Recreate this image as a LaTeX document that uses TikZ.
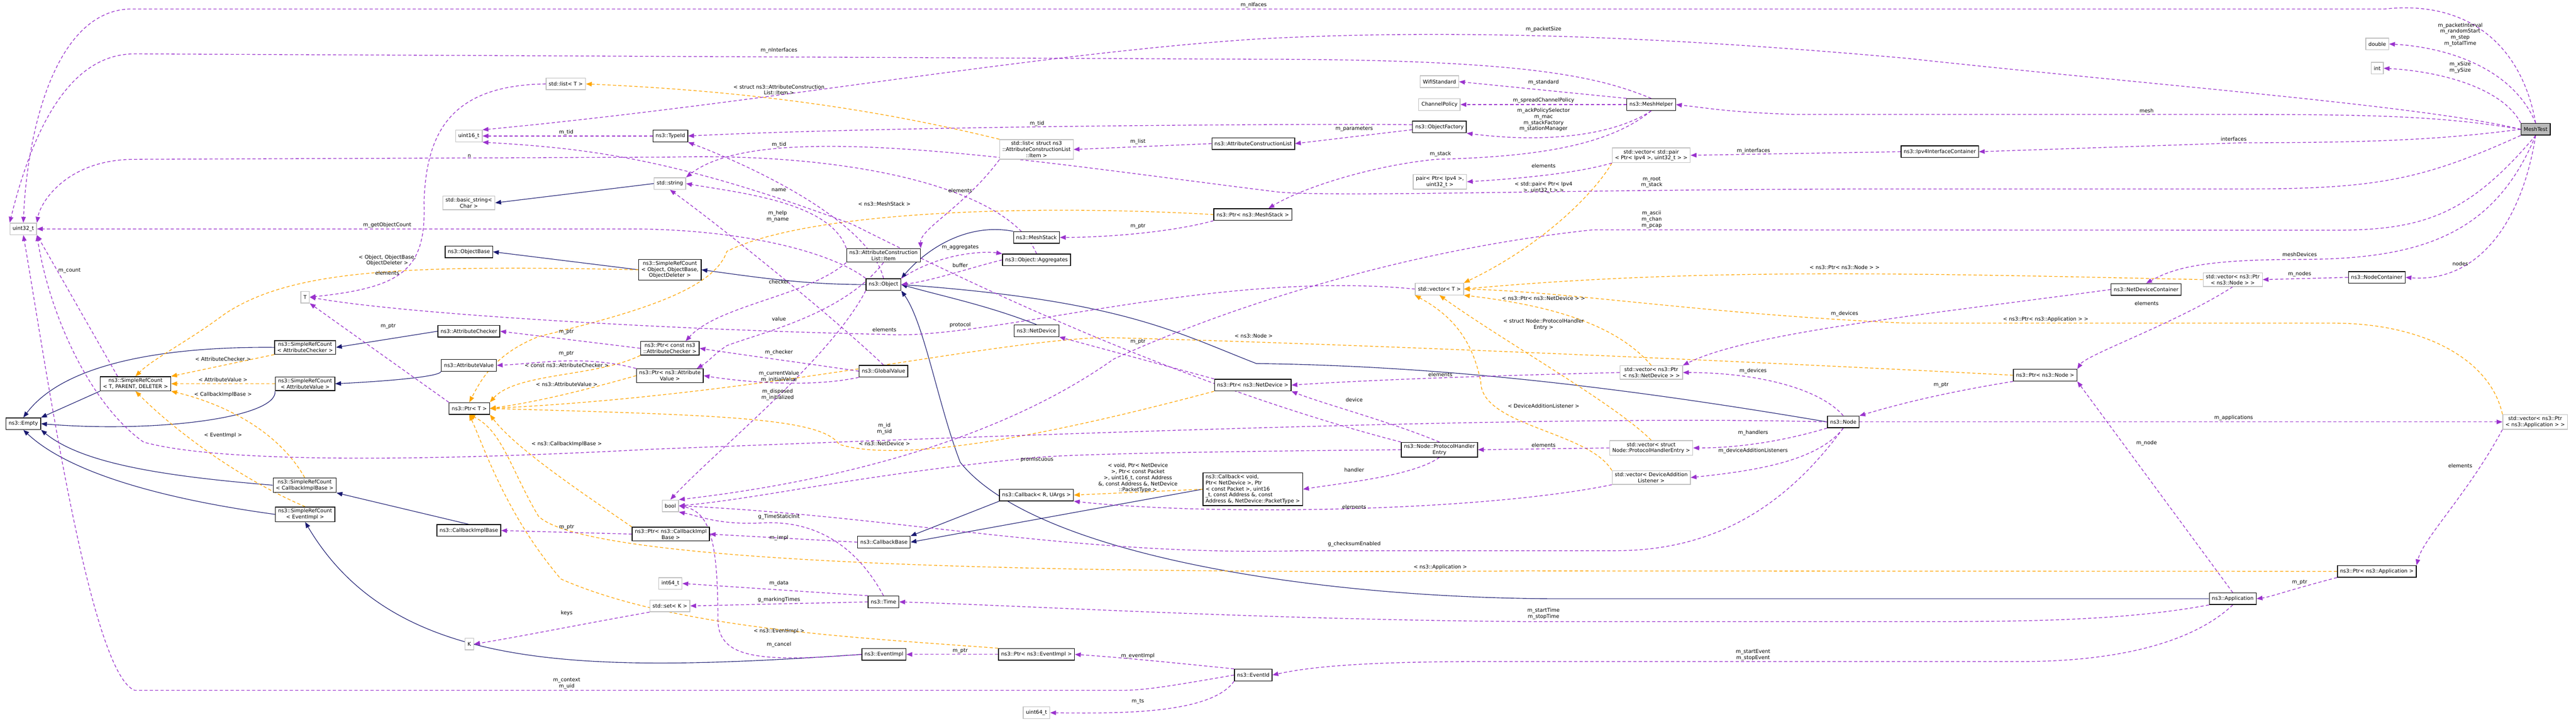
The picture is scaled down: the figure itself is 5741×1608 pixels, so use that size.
\documentclass[tikz,border=0pt]{standalone}
\usepackage{fontspec}
\setmainfont{DejaVu Sans}
\usetikzlibrary{arrows.meta}
\pgfdeclarelayer{edges}
\pgfsetlayers{edges,main}
\definecolor{mpurple}{HTML}{9A32CD}
\definecolor{morange}{HTML}{FFA500}
\definecolor{mnavy}{HTML}{191970}
\definecolor{mgray}{HTML}{BFBFBF}
\begin{document}
\begin{tikzpicture}[x=1pt,y=-1pt,
  box/.style={draw=black,line width=1.6pt,fill=white,inner xsep=6pt,inner ysep=4pt,minimum height=26pt,align=center,font=\fontsize{11.5}{13.5}\selectfont},
  ext/.style={box,draw=mgray},
  mem/.style={draw=mpurple,line width=1.5pt,dash pattern=on 7pt off 5pt,-{Triangle[length=13pt,width=10pt]}},
  tpl/.style={draw=morange,line width=1.5pt,dash pattern=on 7pt off 5pt,-{Triangle[length=13pt,width=10pt]}},
  inh/.style={draw=mnavy,line width=1.3pt,-{Triangle[length=13pt,width=10pt]}},
  lbl/.style={font=\fontsize{11.5}{13.5}\selectfont,align=center,inner sep=1pt}]
\begin{pgfonlayer}{edges}
\fill[white] (0,0) rectangle (5741,1608);
\end{pgfonlayer}
\useasboundingbox (0,0) rectangle (5741,1608);
% ---------- nodes ----------
\node[box,fill=gray!55] (MeshTest) at (5651,288) {MeshTest};
\node[ext] (dbl) at (5298,98) {double};
\node[ext] (int) at (5298,152) {int};
\node[ext] (u32) at (52,510) {uint32\_t};
\node[ext] (u16) at (1045,303) {uint16\_t};
\node[ext] (lstT) at (1261,187) {std::list< T >};
\node[ext] (bstr) at (1045,452) {std::basic\_string<\\ Char >};
\node[box] (objbase) at (1045,561) {ns3::ObjectBase};
\node[ext] (Tt) at (680,662) {T};
\node[box] (achk) at (1045,738) {ns3::AttributeChecker};
\node[box] (srcAC) at (680,774) {ns3::SimpleRefCount\\< AttributeChecker >};
\node[box] (empty) at (52,944) {ns3::Empty};
\node[box] (srcT) at (302,855) {ns3::SimpleRefCount\\< T, PARENT, DELETER >};
\node[box] (srcAV) at (680,855) {ns3::SimpleRefCount\\< AttributeValue >};
\node[box] (aval) at (1045,814) {ns3::AttributeValue};
\node[box] (ptrT) at (1046,910) {ns3::Ptr< T >};
\node[box] (srcCB) at (679,1081) {ns3::SimpleRefCount\\< CallbackImplBase >};
\node[box] (srcEI) at (680,1146) {ns3::SimpleRefCount\\< EventImpl >};
\node[box] (cbimpl) at (1045,1182) {ns3::CallbackImplBase};
\node[ext] (K) at (1046,1435) {K};
\node[box] (typeid) at (1494,303) {ns3::TypeId};
\node[ext] (str) at (1493,409) {std::string};
\node[ext] (lstItem) at (2310,333) {std::list< struct ns3\\::AttributeConstructionList\\::Item >};
\node[box] (acl) at (2793,320) {ns3::AttributeConstructionList};
\node[box] (ptrMS) at (2792,478) {ns3::Ptr< ns3::MeshStack >};
\node[box] (meshstack) at (2310,529) {ns3::MeshStack};
\node[box] (item) at (1969,569) {ns3::AttributeConstruction\\List::Item};
\node[box] (aggr) at (2310,579) {ns3::Object::Aggregates};
\node[box] (srcObj) at (1493,601) {ns3::SimpleRefCount\\< Object, ObjectBase,\\ ObjectDeleter >};
\node[box] (obj) at (1969,634) {ns3::Object};
\node[box] (netdev) at (2310,737) {ns3::NetDevice};
\node[box] (ptrCAC) at (1493,776) {ns3::Ptr< const ns3\\::AttributeChecker >};
\node[box] (ptrAV) at (1493,837) {ns3::Ptr< ns3::Attribute\\Value >};
\node[box] (gval) at (1969,827) {ns3::GlobalValue};
\node[box,align=left] (cbvoid) at (2792,1090) {ns3::Callback< void,\\ Ptr< NetDevice >, Ptr\\< const Packet >, uint16\\\_t, const Address \&, const\\ Address \&, NetDevice::PacketType >};
\node[box] (cbR) at (2310,1103) {ns3::Callback< R, UArgs >};
\node[ext] (bool) at (1494,1127) {bool};
\node[box] (ptrCB) at (1495,1190) {ns3::Ptr< ns3::CallbackImpl\\Base >};
\node[box] (cbbase) at (1970,1208) {ns3::CallbackBase};
\node[ext] (i64) at (1494,1300) {int64\_t};
\node[ext] (setK) at (1493,1350) {std::set< K >};
\node[box] (time) at (1969,1341) {ns3::Time};
\node[box] (evimpl) at (1970,1458) {ns3::EventImpl};
\node[box] (ptrEI) at (2310,1458) {ns3::Ptr< ns3::EventImpl >};
\node[box] (evid) at (2793,1504) {ns3::EventId};
\node[ext] (u64) at (2310,1588) {uint64\_t};
\node[box] (ptrND) at (2792,858) {ns3::Ptr< ns3::NetDevice >};
\node[ext] (wifi) at (3208,182) {WifiStandard};
\node[ext] (chan) at (3208,233) {ChannelPolicy};
\node[box] (meshhelper) at (3680,233) {ns3::MeshHelper};
\node[box] (ofac) at (3208,283) {ns3::ObjectFactory};
\node[ext] (vpair) at (3680,346) {std::vector< std::pair\\< Ptr< Ipv4 >, uint32\_t > >};
\node[box] (ipv4c) at (4323,338) {ns3::Ipv4InterfaceContainer};
\node[ext] (pair) at (3209,405) {pair< Ptr< Ipv4 >,\\ uint32\_t >};
\node[ext] (vT) at (3208,644) {std::vector< T >};
\node[ext] (vND) at (3680,830) {std::vector< ns3::Ptr\\< ns3::NetDevice > >};
\node[box] (node) at (4108,940) {ns3::Node};
\node[box] (phe) at (3208,1002) {ns3::Node::ProtocolHandler\\Entry};
\node[ext] (vPHE) at (3680,998) {std::vector< struct\\ Node::ProtocolHandlerEntry >};
\node[ext] (vDAL) at (3680,1064) {std::vector< DeviceAddition\\Listener >};
\node[box] (ndc) at (4783,645) {ns3::NetDeviceContainer};
\node[ext] (vNode) at (4976,623) {std::vector< ns3::Ptr\\< ns3::Node > >};
\node[box] (nc) at (5297,618) {ns3::NodeContainer};
\node[box] (ptrNode) at (4558,836) {ns3::Ptr< ns3::Node >};
\node[ext] (vApp) at (5650,940) {std::vector< ns3::Ptr\\< ns3::Application > >};
\node[box] (ptrApp) at (5297,1273) {ns3::Ptr< ns3::Application >};
\node[box] (app) at (4976,1334) {ns3::Application};
\begin{pgfonlayer}{edges}
% ---------- inheritance ----------
\draw[inh] (srcT.south west) -- (empty.north east);
\draw[inh] (srcAC.west) .. controls (400,772) and (150,800) .. (empty.north);
\draw[inh] (srcAV.south west) .. controls (620,930) and (350,965) .. (empty.east);
\draw[inh] (srcCB.west) .. controls (350,1060) and (180,1030) .. (empty.south east);
\draw[inh] (srcEI.west) .. controls (350,1110) and (150,1050) .. (empty.south);
\draw[inh] (achk.west) -- (srcAC.east);
\draw[inh] (aval.south west) .. controls (980,840) and (850,850) .. (srcAV.east);
\draw[inh] (cbimpl.north) -- (srcCB.south east);
\draw[inh] (evimpl.west) .. controls (1300,1500) and (880,1500) .. (srcEI.south);
\draw[inh] (srcObj.west) -- (objbase.east);
\draw[inh] (obj.west) .. controls (1800,634) and (1700,620) .. (srcObj.east);
\draw[inh] (str.west) -- (bstr.east);
\draw[inh] (meshstack.north west) .. controls (2150,495) and (2060,560) .. (obj.north east);
\draw[inh] (netdev.north) .. controls (2200,680) and (2100,660) .. (obj.east);
\draw[inh] (node.west) .. controls (3600,860) and (3200,815) .. (2800,810) .. controls (2620,740) and (2500,670) .. (obj.east);
\draw[inh] (app.west) -- (3450,1334) .. controls (2900,1330) and (2300,1230) .. (2140,1030) .. controls (2090,900) and (2060,720) .. (obj.south east);
\draw[inh] (cbR.south west) -- (cbbase.north east);
\draw[inh] (cbvoid.west) -- (cbbase.east);
% ---------- templates ----------
\draw[tpl] (srcAC.south west) -- (srcT.north east);
\draw[tpl] (srcObj.west) .. controls (900,590) and (650,600) .. (500,700) .. controls (420,760) and (340,800) .. (srcT.north);
\draw[tpl] (srcAV.west) -- (srcT.east);
\draw[tpl] (srcCB.north) .. controls (620,960) and (500,900) .. (srcT.south east);
\draw[tpl] (srcEI.north) .. controls (520,1060) and (380,950) .. (srcT.south);
\draw[tpl] (ptrCAC.south west) .. controls (1330,840) and (1150,830) .. (ptrT.north east);
\draw[tpl] (ptrAV.west) .. controls (1300,870) and (1200,895) .. (ptrT.east);
\draw[tpl] (ptrMS.west) .. controls (2300,455) and (1800,470) .. (1620,560) .. controls (1590,650) and (1400,700) .. (1200,750) .. controls (1100,790) and (1070,850) .. (ptrT.north);
\draw[tpl] (ptrCB.north west) .. controls (1300,1100) and (1150,1000) .. (ptrT.south east);
\draw[tpl] (ptrEI.north west) .. controls (1900,1420) and (1500,1400) .. (1250,1290) .. controls (1130,1150) and (1080,1000) .. (ptrT.south);
\draw[tpl] (ptrND.south west) .. controls (2300,980) and (2000,1030) .. (1870,990) .. controls (1830,930) and (1600,925) .. (ptrT.east);
\draw[tpl] (ptrNode.west) .. controls (3600,790) and (2800,760) .. (2460,752) .. controls (2200,760) and (1700,880) .. (ptrT.east);
\draw[tpl] (ptrApp.west) -- (3400,1272) .. controls (2200,1280) and (1300,1250) .. (1200,1150) .. controls (1140,1050) and (1120,960) .. (ptrT.south);
\draw[tpl] (lstItem.north west) .. controls (1900,230) and (1600,200) .. (lstT.east);
\draw[tpl] (cbvoid.west) -- (cbR.east);
\draw[tpl] (vpair.south west) .. controls (3560,420) and (3450,540) .. (vT.north east);
\draw[tpl] (vNode.west) .. controls (4300,610) and (3800,595) .. (vT.east);
\draw[tpl] (vND.north) .. controls (3600,720) and (3450,680) .. (vT.south east);
\draw[tpl] (vPHE.north) .. controls (3600,900) and (3350,760) .. (vT.south);
\draw[tpl] (vDAL.north west) .. controls (3540,960) and (3300,950) .. (3300,850) .. controls (3280,750) and (3230,700) .. (vT.south west);
\draw[tpl] (vApp.north west) .. controls (5550,800) and (5400,720) .. (5200,720) -- (4250,720) .. controls (3800,700) and (3500,650) .. (vT.east);
% ---------- members ----------
\draw[mem] (vT.west) .. controls (2700,600) and (2200,760) .. (1971,745) .. controls (1500,735) and (900,700) .. (Tt.east);
\draw[mem] (lstT.west) .. controls (1000,190) and (950,300) .. (945,450) .. controls (950,600) and (900,640) .. (Tt.east);
\draw[mem] (ptrT.north west) -- (Tt.south east);
\draw[mem] (MeshTest.north) .. controls (5620,100) and (5500,0) .. (5315,20) -- (290,20) .. controls (120,25) and (60,300) .. (u32.north);
\draw[mem] (MeshTest.west) .. controls (5400,235) and (4800,190) .. (4250,130) .. controls (3800,90) and (3300,60) .. (2800,87) .. controls (2300,120) and (1700,230) .. (u16.north east);
\draw[mem] (meshhelper.north) .. controls (3560,170) and (3400,132) .. (2800,132) -- (300,120) .. controls (150,120) and (70,300) .. (u32.north west);
\draw[mem] (aggr.north) .. controls (2250,420) and (1900,340) .. (1500,350) -- (300,355) .. controls (150,355) and (90,450) .. (u32.north east);
\draw[mem] (obj.north west) .. controls (1850,560) and (1650,510) .. (1400,510) -- (u32.east);
\draw[mem] ([xshift=-40pt]srcT.north) -- (u32.south east);
\draw[mem] (evid.west) .. controls (2600,1530) and (2550,1538) .. (2500,1538) -- (300,1538) .. controls (200,1500) and (100,800) .. (u32.south);
\draw[mem] (node.west) .. controls (3500,925) and (2500,960) .. (1450,1001) .. controls (1000,1025) and (500,1035) .. (320,985) .. controls (200,900) and (110,700) .. (u32.south east);
\draw[mem] (typeid.west) -- (u16.east);
\draw[mem] (obj.north) .. controls (1940,500) and (1700,380) .. (typeid.south east);
\draw[mem] ([yshift=5pt]ofac.west) .. controls (3000,275) and (2000,280) .. (typeid.east);
\draw[mem] ([yshift=-6pt]ofac.west) -- (acl.east);
\draw[mem] (acl.west) -- (lstItem.east);
\draw[mem] (lstItem.south west) .. controls (2150,460) and (2050,510) .. (item.north east);
\draw[mem] (meshhelper.north west) -- (wifi.east);
\draw[mem] (meshhelper.west) -- (chan.east);
\draw[mem] (meshhelper.south) .. controls (3600,300) and (3450,320) .. (ofac.south east);
\draw[mem] (meshhelper.south) .. controls (3580,330) and (3400,350) .. (3200,355) .. controls (3050,370) and (2900,420) .. ([xshift=35pt]ptrMS.north);
\draw[mem] (ptrMS.south west) .. controls (2600,520) and (2450,529) .. (meshstack.east);
\draw[mem] (MeshTest.west) .. controls (5450,260) and (5300,255) .. (5000,255) -- (4000,255) .. controls (3850,250) and (3800,240) .. (meshhelper.east);
\draw[mem] (MeshTest.west) .. controls (5450,310) and (5300,318) .. (5000,318) -- (ipv4c.east);
\draw[mem] (ipv4c.west) -- (vpair.east);
\draw[mem] (vpair.south west) .. controls (3500,390) and (3350,400) .. (pair.east);
\draw[mem] (MeshTest.south west) .. controls (5400,400) and (5300,421) .. (5000,421) -- (4250,421) .. controls (3500,421) and (3000,440) .. (2850,428) .. controls (2300,360) and (1700,260) .. (str.north east);
\draw[mem] (MeshTest.south) .. controls (5500,480) and (5400,513) .. (5200,513) -- (3550,512) .. controls (3100,560) and (2700,700) .. (2482,800) .. controls (2200,1000) and (1800,1080) .. (bool.north east);
\draw[mem] (MeshTest.north) .. controls (5600,150) and (5450,105) .. (dbl.east);
\draw[mem] (MeshTest.north west) .. controls (5580,200) and (5450,160) .. (int.east);
\draw[mem] (MeshTest.south) .. controls (5560,520) and (5400,578) .. (5125,578) .. controls (4900,578) and (4840,600) .. (ndc.north);
\draw[mem] (MeshTest.south) .. controls (5620,500) and (5520,630) .. (nc.east);
\draw[mem] (nc.west) -- (vNode.east);
\draw[mem] (ndc.west) .. controls (4300,700) and (3900,740) .. (vND.north east);
\draw[mem] (node.north) .. controls (4050,860) and (3900,830) .. (vND.east);
\draw[mem] (vNode.south) .. controls (4850,720) and (4650,790) .. (ptrNode.north east);
\draw[mem] (ptrNode.south west) .. controls (4300,880) and (4200,910) .. (node.north east);
\draw[mem] (node.east) -- (vApp.west);
\draw[mem] (vApp.south west) .. controls (5500,1100) and (5400,1200) .. (ptrApp.north east);
\draw[mem] (ptrApp.south west) .. controls (5100,1315) and (5060,1330) .. (app.east);
\draw[mem] (app.north) -- (ptrNode.south east);
\draw[mem] (app.south west) .. controls (4750,1380) and (4550,1385) .. (4300,1385) -- (3400,1385) .. controls (2800,1380) and (2300,1350) .. (time.east);
\draw[mem] (app.south) .. controls (4900,1420) and (4750,1474) .. (4500,1474) -- (3300,1474) .. controls (3000,1474) and (2900,1490) .. (evid.east);
\draw[mem] (evid.north west) .. controls (2600,1475) and (2500,1465) .. (ptrEI.east);
\draw[mem] (evid.south west) .. controls (2700,1590) and (2500,1590) .. (u64.east);
\draw[mem] (ptrEI.west) -- (evimpl.east);
\draw[mem] (evimpl.west) .. controls (1700,1475) and (1600,1470) .. (1600,1380) .. controls (1600,1200) and (1580,1140) .. (bool.east);
\draw[mem] (time.north) .. controls (1900,1200) and (1800,1160) .. (1700,1165) .. controls (1600,1170) and (1560,1150) .. (bool.south east);
\draw[mem] (time.north west) -- (i64.east);
\draw[mem] (time.west) -- (setK.east);
\draw[mem] (setK.south west) .. controls (1300,1390) and (1150,1420) .. (K.east);
\draw[mem] (cbbase.west) -- (ptrCB.east);
\draw[mem] (ptrCB.west) -- (cbimpl.east);
\draw[mem] (vDAL.south west) .. controls (3300,1140) and (2700,1150) .. (cbR.south east);
\draw[mem] (phe.north) .. controls (3100,940) and (2950,900) .. (ptrND.south east);
\draw[mem] (phe.south) .. controls (3150,1060) and (3000,1075) .. (cbvoid.east);
\draw[mem] (phe.west) .. controls (2800,1005) and (2400,1010) .. (2300,1020) .. controls (1900,1060) and (1700,1110) .. (bool.east);
\draw[mem] (phe.north west) .. controls (2600,850) and (2100,600) .. (1900,500) .. controls (1500,350) and (1300,330) .. (u16.south east);
\draw[mem] (vPHE.west) -- (phe.east);
\draw[mem] (node.south west) .. controls (3950,990) and (3850,998) .. (vPHE.east);
\draw[mem] (node.south) .. controls (4050,1030) and (3900,1050) .. (vDAL.east);
\draw[mem] (node.south) .. controls (4000,1100) and (3850,1227) .. (3600,1227) -- (2900,1227) .. controls (2400,1240) and (2000,1150) .. (bool.east);
\draw[mem] (vND.west) .. controls (3200,840) and (3000,850) .. (ptrND.east);
\draw[mem] (ptrND.north west) -- (netdev.south east);
\draw[mem] (obj.north east) .. controls (2100,560) and (2200,560) .. (aggr.north west);
\draw[mem] (aggr.west) .. controls (2150,600) and (2080,625) .. (obj.east);
\draw[mem] (obj.south west) .. controls (1850,800) and (1600,1000) .. (bool.north);
\draw[mem] (item.south west) .. controls (1800,660) and (1600,680) .. ([xshift=35pt]ptrCAC.north);
\draw[mem] (item.south) .. controls (1880,700) and (1700,740) .. (1620,770) .. controls (1590,790) and (1580,805) .. ([xshift=60pt]ptrAV.north);
\draw[mem] (item.north west) .. controls (1850,450) and (1650,430) .. (str.east);
\draw[mem] (gval.west) .. controls (1800,810) and (1650,790) .. (ptrCAC.east);
\draw[mem] (gval.south west) .. controls (1800,865) and (1650,850) .. (ptrAV.east);
\draw[mem] (gval.north) .. controls (1850,700) and (1600,500) .. (str.south);
\draw[mem] (ptrCAC.west) -- (achk.east);
\draw[mem] (ptrAV.north west) .. controls (1300,790) and (1200,810) .. (aval.east);
\end{pgfonlayer}
% ---------- labels ----------
\node[lbl] at (2794,11) {m\_nIfaces};
\node[lbl] at (1736,112) {m\_nInterfaces};
\node[lbl] at (3440,65) {m\_packetSize};
\node[lbl] at (1736,200) {< struct ns3::AttributeConstruction\\List::Item >};
\node[lbl] at (2311,275) {m\_tid};
\node[lbl] at (1736,322) {m\_tid};
\node[lbl] at (1262,295) {m\_tid};
\node[lbl] at (1046,348) {n};
\node[lbl] at (863,502) {m\_getObjectCount};
\node[lbl] at (155,603) {m\_count};
\node[lbl] at (863,580) {< Object, ObjectBase,\\ObjectDeleter >};
\node[lbl] at (863,608) {elements};
\node[lbl] at (865,727) {m\_ptr};
\node[lbl] at (1262,740) {m\_ptr};
\node[lbl] at (1262,788) {m\_ptr};
\node[lbl] at (2536,316) {m\_list};
\node[lbl] at (1736,423) {name};
\node[lbl] at (2140,424) {elements};
\node[lbl] at (1971,454) {< ns3::MeshStack >};
\node[lbl] at (1733,482) {m\_help\\m\_name};
\node[lbl] at (2536,504) {m\_ptr};
\node[lbl] at (2140,551) {m\_aggregates};
\node[lbl] at (2140,591) {buffer};
\node[lbl] at (1736,628) {checker};
\node[lbl] at (1736,710) {value};
\node[lbl] at (1971,734) {elements};
\node[lbl] at (2140,724) {protocol};
\node[lbl] at (2536,761) {m\_ptr};
\node[lbl] at (2794,748) {< ns3::Node >};
\node[lbl] at (1736,785) {m\_checker};
\node[lbl] at (3440,184) {m\_standard};
\node[lbl] at (3440,224) {m\_spreadChannelPolicy};
\node[lbl] at (3440,267) {m\_ackPolicySelector\\m\_mac\\m\_stackFactory\\m\_stationManager};
\node[lbl] at (3018,287) {m\_parameters};
\node[lbl] at (3210,343) {m\_stack};
\node[lbl] at (3908,336) {m\_interfaces};
\node[lbl] at (3440,370) {elements};
\node[lbl] at (3440,418) {< std::pair< Ptr< Ipv4\\ >, uint32\_t > >};
\node[lbl] at (3681,406) {m\_root\\m\_stack};
\node[lbl] at (3681,489) {m\_ascii\\m\_chan\\m\_pcap};
\node[lbl] at (4111,596) {< ns3::Ptr< ns3::Node > >};
\node[lbl] at (3440,664) {< ns3::Ptr< ns3::NetDevice > >};
\node[lbl] at (4111,699) {m\_devices};
\node[lbl] at (3440,723) {< struct Node::ProtocolHandler\\Entry >};
\node[lbl] at (5483,77) {m\_packetInterval\\m\_randomStart\\m\_step\\m\_totalTime};
\node[lbl] at (5483,150) {m\_xSize\\m\_ySize};
\node[lbl] at (4784,247) {mesh};
\node[lbl] at (4978,310) {interfaces};
\node[lbl] at (5125,567) {meshDevices};
\node[lbl] at (5483,588) {nodes};
\node[lbl] at (5125,611) {m\_nodes};
\node[lbl] at (4784,676) {elements};
\node[lbl] at (4559,712) {< ns3::Ptr< ns3::Application > >};
\node[lbl] at (497,800) {< AttributeChecker >};
\node[lbl] at (497,846) {< AttributeValue >};
\node[lbl] at (497,879) {< CallbackImplBase >};
\node[lbl] at (497,970) {< EventImpl >};
\node[lbl] at (1263,814) {< const ns3::AttributeChecker >};
\node[lbl] at (1263,856) {< ns3::AttributeValue >};
\node[lbl] at (1263,990) {< ns3::CallbackImplBase >};
\node[lbl] at (1263,1175) {m\_ptr};
\node[lbl] at (1263,1366) {keys};
\node[lbl] at (1263,1523) {m\_context\\m\_uid};
\node[lbl] at (1736,839) {m\_currentValue\\m\_initialValue};
\node[lbl] at (1733,879) {m\_disposed\\m\_initialized};
\node[lbl] at (1971,955) {m\_id\\m\_sid};
\node[lbl] at (1971,988) {< ns3::NetDevice >};
\node[lbl] at (2311,1024) {promiscuous};
\node[lbl] at (2536,1065) {< void, Ptr< NetDevice\\ >, Ptr< const Packet\\ >, uint16\_t, const Address\\ \&, const Address \&, NetDevice\\ ::PacketType >};
\node[lbl] at (1736,1152) {g\_TimeStaticInit};
\node[lbl] at (1736,1198) {m\_impl};
\node[lbl] at (1736,1300) {m\_data};
\node[lbl] at (1736,1336) {g\_markingTimes};
\node[lbl] at (1736,1406) {< ns3::EventImpl >};
\node[lbl] at (1736,1436) {m\_cancel};
\node[lbl] at (2140,1450) {m\_ptr};
\node[lbl] at (2536,1462) {m\_eventImpl};
\node[lbl] at (2536,1563) {m\_ts};
\node[lbl] at (3210,835) {elements};
\node[lbl] at (3907,827) {m\_devices};
\node[lbl] at (3018,891) {device};
\node[lbl] at (3440,905) {< DeviceAdditionListener >};
\node[lbl] at (3440,992) {elements};
\node[lbl] at (3907,964) {m\_handlers};
\node[lbl] at (3907,1004) {m\_deviceAdditionListeners};
\node[lbl] at (3018,1047) {handler};
\node[lbl] at (3018,1130) {elements};
\node[lbl] at (3018,1212) {g\_checksumEnabled};
\node[lbl] at (3210,1264) {< ns3::Application >};
\node[lbl] at (3440,1367) {m\_startTime\\m\_stopTime};
\node[lbl] at (3907,1459) {m\_startEvent\\m\_stopEvent};
\node[lbl] at (4326,858) {m\_ptr};
\node[lbl] at (4978,931) {m\_applications};
\node[lbl] at (4784,987) {m\_node};
\node[lbl] at (5483,1038) {elements};
\node[lbl] at (5125,1298) {m\_ptr};
\end{tikzpicture}
\end{document}
